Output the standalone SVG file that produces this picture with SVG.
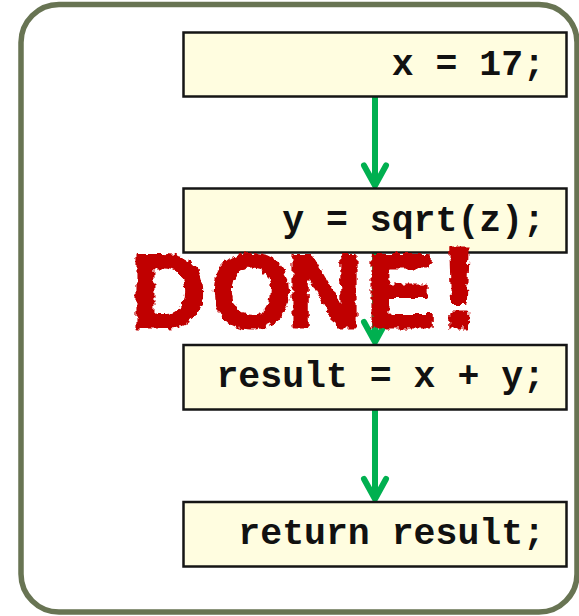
<svg xmlns="http://www.w3.org/2000/svg" width="579" height="616" viewBox="0 0 579 616">
  <style>
    .frame { fill: #ffffff; stroke: #687453; stroke-width: 5.5; }
    .box { fill: #fffde0; stroke: #151515; stroke-width: 2.5; }
    .code { font-family: "Liberation Mono", "Courier New", monospace; font-weight: bold; font-size: 36.5px; fill: #111111; text-anchor: end; }
    .flow { stroke: #00b050; stroke-width: 6; fill: none; stroke-linecap: butt; }
    .done { font-family: "Liberation Sans", Arial, sans-serif; font-weight: bold; font-size: 104px; fill: #c00000; stroke: #c00000; stroke-width: 3; stroke-linejoin: round; }
  </style>
  <defs>
    <marker id="chev" markerUnits="userSpaceOnUse" orient="auto" refX="0" refY="0" markerWidth="40" markerHeight="40" overflow="visible">
      <path d="M-20,-11 L0,0 L-20,11" fill="none" stroke="#00b050" stroke-width="6" stroke-linecap="round" stroke-linejoin="round"/>
    </marker>
    <filter id="rough" x="-5%" y="-10%" width="110%" height="120%">
      <feTurbulence type="fractalNoise" baseFrequency="0.18" numOctaves="2" seed="3" result="n"/>
      <feDisplacementMap in="SourceGraphic" in2="n" scale="7" xChannelSelector="R" yChannelSelector="G"/>
    </filter>
  </defs>

  <rect class="frame" x="21" y="4.5" width="556" height="607.5" rx="38" ry="38"/>

  <g id="connectors">
    <line class="flow" x1="375" y1="97" x2="375" y2="185.5" marker-end="url(#chev)"/>
    <line class="flow" x1="375" y1="253" x2="375" y2="342" marker-end="url(#chev)"/>
    <line class="flow" x1="375" y1="410" x2="375" y2="499" marker-end="url(#chev)"/>
  </g>

  <g id="node1">
    <rect class="box" x="183.5" y="32.5" width="383" height="64"/>
    <text class="code" x="545" y="75">x = 17;</text>
  </g>
  <g id="node2">
    <rect class="box" x="183.5" y="188.5" width="383" height="64"/>
    <text class="code" x="545" y="231">y = sqrt(z);</text>
  </g>
  <g id="node3">
    <rect class="box" x="183.5" y="345" width="383" height="64.5"/>
    <text class="code" x="545" y="387">result = x + y;</text>
  </g>
  <g id="node4">
    <rect class="box" x="183.5" y="502" width="383" height="64.5"/>
    <text class="code" x="545" y="543.5">return result;</text>
  </g>

  <g id="done" filter="url(#rough)">
    <text class="done" y="327"><tspan x="131">D</tspan><tspan x="211">O</tspan><tspan x="287">N</tspan><tspan x="366">E</tspan><tspan x="440" font-size="114">!</tspan></text>
  </g>
</svg>
